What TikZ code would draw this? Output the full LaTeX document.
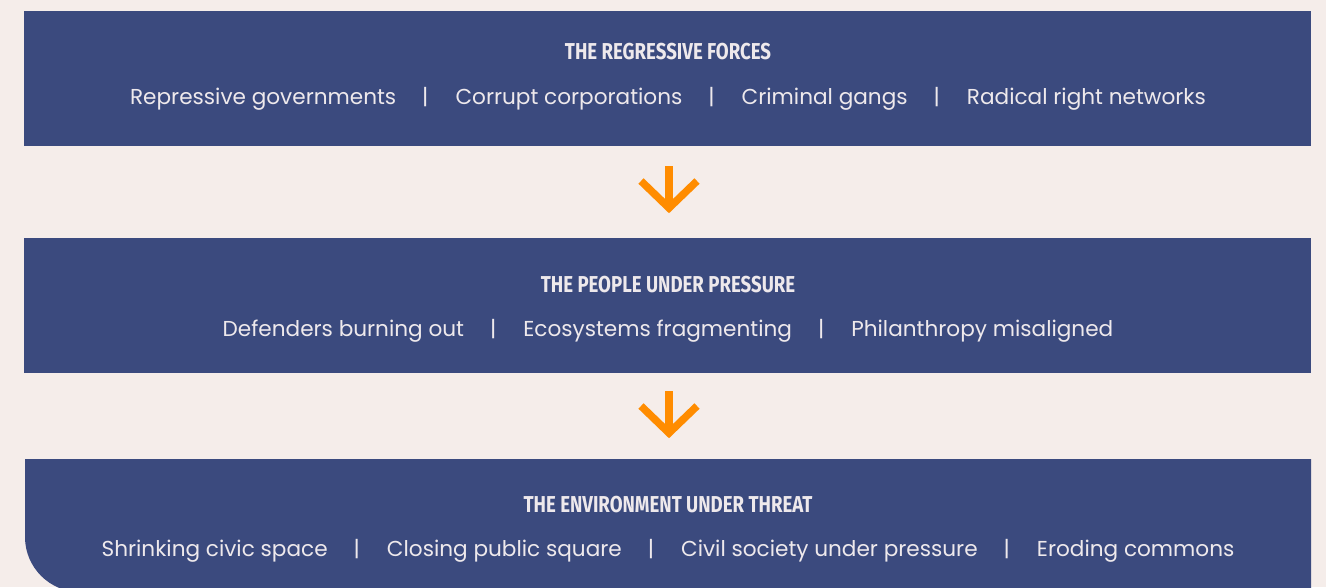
\documentclass[tikz,border=0pt]{standalone}
\usepackage{fontspec}
\setmainfont{Poppins}
\newfontfamily\headfont[FakeStretch=0.81]{Fira Sans}
\usetikzlibrary{calc}
\definecolor{bgcol}{HTML}{F5EDEA}
\definecolor{bandcol}{HTML}{3B4A7E}
\definecolor{inkcol}{HTML}{EEE9EC}
\definecolor{flowcol}{HTML}{FF8C00}
\newcommand{\pipesep}{\hspace{26pt}|\hspace{27pt}}

\begin{document}
\begin{tikzpicture}[x=1pt,y=-1pt,
  band/.style={rectangle,fill=bandcol,minimum width=1287pt,minimum height=135pt,inner sep=0pt},
  heading/.style={anchor=base,text=inkcol,font=\headfont\bfseries\fontsize{23}{26}\selectfont},
  items/.style={anchor=base,text=inkcol,font=\fontsize{21.6}{26}\selectfont},
  flow/.style={draw=flowcol,line width=7.5pt,miter limit=4}]
  \useasboundingbox (0,0) rectangle (1326,587);
  \fill[bgcol] (0,0) rectangle (1326,587);

  \node[band] (b1) at (667.5,78.5) {};
  \node[band] (b2) at (667.5,305.5) {};
  \fill[bandcol] (25,459) -- (1311,459) -- (1311,592) -- (80,592)
    arc[start angle=90,end angle=180,radius=55] -- cycle;

  \node[heading] (h1) at (668,59) {THE REGRESSIVE FORCES};
  \node[items] (i1) at (668,104) {Repressive governments\pipesep Corrupt corporations\pipesep Criminal gangs\pipesep Radical right networks};
  \node[heading] (h2) at (668,292) {THE PEOPLE UNDER PRESSURE};
  \node[items] (i2) at (668,336) {Defenders burning out\pipesep Ecosystems fragmenting\pipesep Philanthropy misaligned};
  \node[heading] (h3) at (668,512) {THE ENVIRONMENT UNDER THREAT};
  \node[items] (i3) at (668,556) {Shrinking civic space\pipesep Closing public square\pipesep Civil society under pressure\pipesep Eroding commons};

  % arrows between the bands
  \coordinate (t1) at (669,166);
  \coordinate (p1) at (669,208);
  \coordinate (t2) at (669,391);
  \coordinate (p2) at (669,433);
  \draw[flow] (t1) -- (p1);
  \draw[flow] ($(p1)+(-28,-27)$) -- (p1) -- ($(p1)+(28,-27)$);
  \draw[flow] (t2) -- (p2);
  \draw[flow] ($(p2)+(-28,-27)$) -- (p2) -- ($(p2)+(28,-27)$);
\end{tikzpicture}
\end{document}
